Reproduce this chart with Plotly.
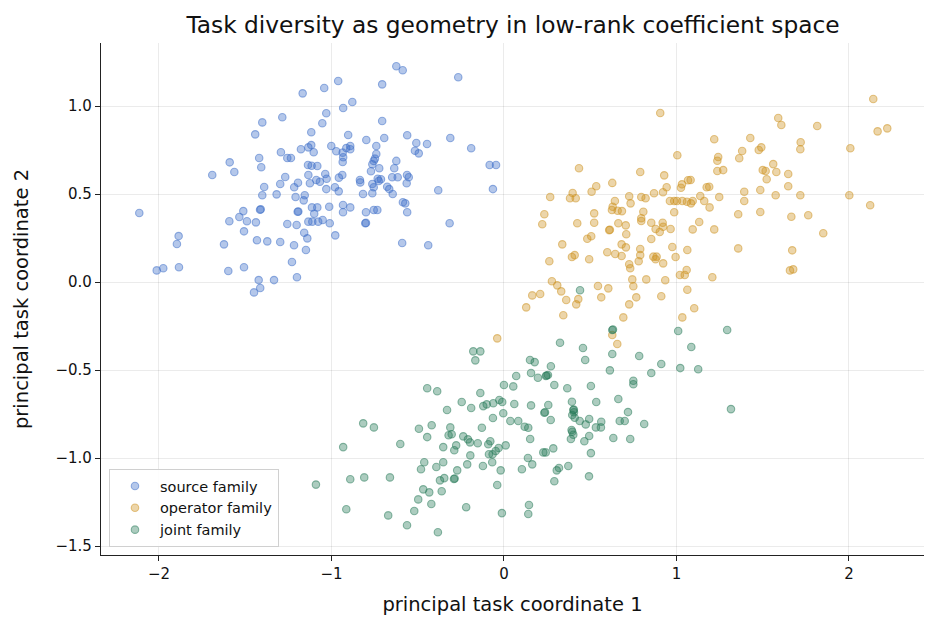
import plotly.graph_objects as go

# source family (blue)
src_x = [-0.624,-0.587,-0.265,-0.961,-1.042,-0.706,-1.167,-0.879,-0.932,-1.030,
         -1.053,-0.706,-1.117,-0.903,-0.694,-0.561,-0.311,-0.798,-0.508,-0.446,
         -0.190,-0.740,-0.891,-1.001,-1.117,-1.134,-1.177,-1.103,-0.972,-0.914,
         -0.891,-0.935,-0.516,-0.494,-0.740,-0.932,-0.748,-0.755,-0.935,-0.624,
         -0.763,-1.136,-1.115,-1.082,-0.083,-0.046,-0.723,-0.636,-0.771,-1.134,
         -1.036,-0.937,-0.562,-0.616,-0.648,-0.835,-0.957,-1.088,-1.028,-0.732,
         -0.713,-0.552,-1.125,-1.067,-1.030,-0.980,-0.958,-0.833,-0.763,-0.755,
         -0.726,-0.677,-0.665,-0.645,-0.564,-0.817,-0.763,-0.381,-0.064,-1.155,
         -1.161,-1.113,-1.082,-1.013,-0.933,-0.891,-0.933,-1.100,-0.800,-0.755,
         -0.734,-0.586,-0.572,-0.561,-0.315,-0.804,-0.800,-1.010,-1.134,-1.111,
         -1.077,-1.051,-1.158,-1.140,-0.978,-0.590,-0.439,-1.148,
         -2.114,-1.886,-1.896,-2.013,-1.975,-1.884,-1.623,-1.598,-1.507,-1.422,
         -1.413,-1.449,-1.333,-1.200,-1.229,-1.217,-1.297,-1.372,-1.432,-1.507,
         -1.592,-1.534,-1.511,-1.490,-1.438,-1.414,-1.410,-1.196,-1.192,-1.256,
         -1.202,-1.401,-1.390,-1.318,-1.297,-1.216,-1.208,-1.194,-1.285,-1.401,
         -1.442,-1.590,-1.563,-1.419,-1.407,-1.293,-1.256,-1.235,-1.691,-1.268]
src_y = [1.226,1.203,1.163,1.142,1.102,1.123,1.072,1.023,0.989,0.959,
         0.902,0.915,0.851,0.835,0.818,0.834,0.818,0.807,0.790,0.784,
         0.760,0.773,0.773,0.773,0.778,0.765,0.754,0.737,0.743,0.761,
         0.754,0.735,0.746,0.731,0.727,0.709,0.701,0.688,0.682,0.688,
         0.669,0.665,0.661,0.659,0.665,0.665,0.646,0.646,0.629,0.608,
         0.614,0.608,0.608,0.595,0.595,0.580,0.593,0.580,0.587,0.587,
         0.584,0.595,0.561,0.570,0.528,0.538,0.515,0.566,0.557,0.538,
         0.574,0.541,0.528,0.500,0.561,0.500,0.504,0.521,0.528,0.493,
         0.464,0.424,0.424,0.428,0.438,0.424,0.396,0.388,0.396,0.409,
         0.409,0.453,0.447,0.396,0.334,0.334,0.336,0.334,0.343,0.343,
         0.343,0.352,0.280,0.248,0.265,0.222,0.209,0.182,
         0.392,0.261,0.216,0.066,0.078,0.084,0.214,0.063,0.084,0.011,
         -0.034,-0.059,0.011,0.027,0.114,0.209,0.227,0.231,0.237,0.288,
         0.345,0.369,0.403,0.345,0.339,0.411,0.413,0.399,0.401,0.330,
         0.324,0.493,0.540,0.498,0.557,0.538,0.483,0.564,0.936,0.907,
         0.839,0.680,0.625,0.705,0.652,0.737,0.705,0.705,0.608,0.597]

# operator family (orange)
op_x = [0.906,1.005,0.435,0.790,0.929,0.628,0.535,0.508,0.398,0.383,
        0.416,0.268,0.234,0.523,0.643,0.630,0.626,0.659,0.684,0.726,
        0.734,0.796,0.821,0.808,0.796,0.870,0.922,0.943,0.962,0.987,
        1.003,1.034,1.026,1.032,1.067,1.061,0.987,2.141,1.590,1.608,
        1.816,2.166,2.222,1.219,1.428,1.720,1.718,2.008,1.381,1.364,
        1.477,1.492,1.242,1.237,1.237,1.271,1.500,1.517,1.561,1.579,
        1.648,1.523,1.082,1.175,1.190,1.393,1.486,1.648,1.393,1.575,
        1.718,2.002,2.123,1.248,1.138,1.161,1.192,1.094,1.084,1.358,
        1.486,1.666,1.764,1.132,0.222,0.425,0.523,0.663,0.706,0.796,
        0.854,0.920,0.923,0.879,0.903,0.966,0.610,0.614,0.483,0.506,
        0.709,0.854,0.338,0.682,0.707,0.790,0.976,1.063,0.599,0.645,
        0.682,0.790,0.866,0.885,0.879,0.410,0.394,0.494,0.263,0.781,
        0.726,0.732,0.923,0.995,1.059,1.020,1.048,0.744,0.825,0.935,
        0.750,1.063,0.278,0.309,0.332,0.545,0.605,0.164,0.210,0.361,
        0.431,0.419,0.564,0.767,0.912,0.726,0.129,0.344,0.692,1.034,
        0.628,-0.039,0.657,1.094,1.219,1.851,1.358,1.671,1.658,1.677,
        1.208,1.103]
op_y = [0.960,0.720,0.646,0.625,0.606,0.563,0.544,0.513,0.506,0.476,
        0.476,0.483,0.385,0.390,0.460,0.428,0.409,0.405,0.403,0.487,
        0.447,0.483,0.476,0.399,0.362,0.504,0.510,0.538,0.460,0.460,
        0.460,0.460,0.536,0.555,0.578,0.456,0.396,1.040,0.932,0.892,
        0.886,0.856,0.873,0.811,0.818,0.794,0.754,0.760,0.744,0.703,
        0.750,0.765,0.710,0.689,0.631,0.636,0.636,0.631,0.670,0.625,
        0.614,0.584,0.580,0.538,0.541,0.513,0.523,0.544,0.460,0.493,
        0.493,0.493,0.436,0.483,0.489,0.460,0.424,0.460,0.447,0.385,
        0.398,0.371,0.379,0.341,0.328,0.334,0.337,0.334,0.322,0.347,
        0.337,0.337,0.314,0.301,0.284,0.301,0.295,0.297,0.246,0.260,
        0.271,0.244,0.214,0.214,0.197,0.188,0.199,0.182,0.169,0.159,
        0.148,0.153,0.144,0.144,0.129,0.153,0.142,0.129,0.118,0.118,
        0.101,0.078,0.106,0.142,0.068,0.040,0.040,0.015,0.015,0.010,
        -0.024,-0.044,0.004,-0.019,-0.053,-0.023,-0.036,-0.076,-0.068,-0.102,
        -0.097,-0.127,-0.087,-0.087,-0.081,-0.127,-0.144,-0.189,-0.201,-0.201,
        -0.301,-0.320,-0.352,0.299,0.299,0.277,0.191,0.180,0.066,0.072,
        0.027,-0.149]

# joint family (green)
joint_x = [-0.178,-0.137,-0.166,0.151,0.178,0.157,0.071,0.197,0.000,0.054,
           -0.445,-0.387,-0.137,-0.245,-0.190,-0.330,-0.120,-0.100,-0.062,-0.027,
           -0.010,0.060,0.157,-0.064,-0.004,0.037,0.083,0.120,0.141,-0.816,
           -0.754,-0.493,-0.419,-0.311,-0.128,0.628,0.632,0.441,1.010,0.325,
           1.294,0.458,0.471,0.628,0.784,1.086,0.912,0.854,1.022,1.126,
           0.614,0.272,0.255,0.243,0.247,0.292,0.367,0.504,0.750,0.750,
           0.394,0.535,0.663,0.257,0.234,0.238,0.402,0.405,0.406,0.396,
           0.410,0.719,0.494,0.439,0.271,0.564,0.671,0.700,0.813,1.316,
           0.474,0.533,0.562,0.392,-0.932,-0.601,-0.445,-0.321,-0.303,-0.236,
           -0.209,-0.197,-0.152,-0.352,-0.277,-0.288,-0.091,-0.079,-0.087,-0.066,
           -0.048,-0.031,0.010,-0.195,0.152,0.139,0.164,0.104,-0.019,-0.122,
           -0.068,-0.213,-0.271,-0.352,-0.392,-0.462,-0.481,-0.346,-0.371,-0.290,
           -0.286,-0.039,-0.891,-0.810,-0.661,-0.468,-0.433,-0.361,-0.497,-0.421,
           -0.520,-0.219,-0.012,0.145,0.141,-0.914,-0.671,-0.562,-0.383,0.396,
           0.402,0.388,0.494,0.466,0.634,0.732,0.286,0.242,0.228,0.504,
           0.373,0.319,0.306,0.292,0.493,-1.090]
joint_y = [-0.394,-0.394,-0.445,-0.443,-0.455,-0.517,-0.534,-0.544,-0.585,-0.593,
           -0.604,-0.621,-0.631,-0.682,-0.716,-0.727,-0.705,-0.695,-0.689,-0.670,
           -0.682,-0.693,-0.701,-0.773,-0.746,-0.790,-0.790,-0.822,-0.828,-0.803,
           -0.826,-0.834,-0.814,-0.826,-0.828,-0.273,-0.270,-0.047,-0.278,-0.345,
           -0.273,-0.375,-0.443,-0.409,-0.420,-0.369,-0.466,-0.517,-0.489,-0.496,
           -0.502,-0.479,-0.528,-0.534,-0.531,-0.585,-0.604,-0.591,-0.561,-0.581,
           -0.680,-0.682,-0.665,-0.699,-0.743,-0.740,-0.727,-0.725,-0.740,-0.756,
           -0.771,-0.739,-0.778,-0.790,-0.784,-0.794,-0.790,-0.790,-0.807,-0.722,
           -0.809,-0.826,-0.826,-0.841,-0.938,-0.920,-0.881,-0.871,-0.865,-0.877,
           -0.894,-0.911,-0.916,-0.938,-0.928,-0.956,-0.922,-0.905,-0.979,-0.979,
           -0.960,-0.943,-0.928,-0.985,-0.892,-1.000,-1.036,-1.064,-1.070,-1.045,
           -1.024,-1.036,-1.070,-1.024,-1.051,-1.024,-1.064,-1.114,-1.127,-1.119,
           -1.116,-1.153,-1.121,-1.110,-1.110,-1.178,-1.195,-1.189,-1.235,-1.261,
           -1.301,-1.280,-1.313,-1.267,-1.318,-1.291,-1.326,-1.382,-1.422,-0.851,
           -0.868,-0.892,-0.875,-0.905,-0.886,-0.892,-0.945,-0.968,-0.968,-0.972,
           -1.045,-1.057,-1.070,-1.132,-1.104,-1.151]

series_names = ["source family", "operator family", "joint family"]
series_rgb = [(58, 108, 200), (205, 145, 30), (38, 122, 88)]

x_ticks = [-2, -1, 0, 1, 2]
y_ticks = [-1.5, -1.0, -0.5, 0.0, 0.5, 1.0]

FONT = "DejaVu Sans"

fig = go.Figure()
for name, xs, ys, (r, g, b) in zip(series_names, [src_x, op_x, joint_x],
                                   [src_y, op_y, joint_y], series_rgb):
    fig.add_trace(go.Scatter(
        x=xs, y=ys, mode="markers", name=name,
        marker=dict(size=7.5, color=f"rgba({r},{g},{b},0.38)",
                    line=dict(width=1.1, color=f"rgba({r},{g},{b},0.5)")),
    ))

axis_common = dict(
    showgrid=True, gridcolor="rgba(0,0,0,0.08)", gridwidth=1,
    zeroline=False, showline=True, linecolor="#222", linewidth=1.2,
    ticks="outside", ticklen=5, tickwidth=1.2, tickcolor="#222",
    tickfont=dict(family=FONT, size=15, color="#111"),
    mirror=False,
)

fig.update_layout(
    width=937, height=629,
    margin=dict(l=101, r=13, t=43, b=74),
    paper_bgcolor="white", plot_bgcolor="white",
    font=dict(family=FONT, color="#111"),
    title=dict(text="Task diversity as geometry in low-rank coefficient space",
               x=0.5475, xanchor="center", y=0.96, yanchor="middle",
               font=dict(family=FONT, size=23.3, color="#111")),
    xaxis=dict(axis_common, range=[-2.336, 2.435], tickvals=x_ticks,
               tickformat="d",
               title=dict(text="principal task coordinate 1", standoff=15,
                          font=dict(family=FONT, size=19.5, color="#111"))),
    yaxis=dict(axis_common, range=[-1.551, 1.358], tickvals=y_ticks,
               tickformat=".1f",
               title=dict(text="principal task coordinate 2", standoff=21,
                          font=dict(family=FONT, size=19.5, color="#111"))),
    legend=dict(x=0.0097, y=0.0156, xanchor="left", yanchor="bottom",
                bgcolor="rgba(255,255,255,0.9)", bordercolor="#d0d0d0",
                borderwidth=1, itemwidth=40,
                font=dict(family=FONT, size=14.5, color="#111")),
    showlegend=True,
)

fig.write_html("out.html")
